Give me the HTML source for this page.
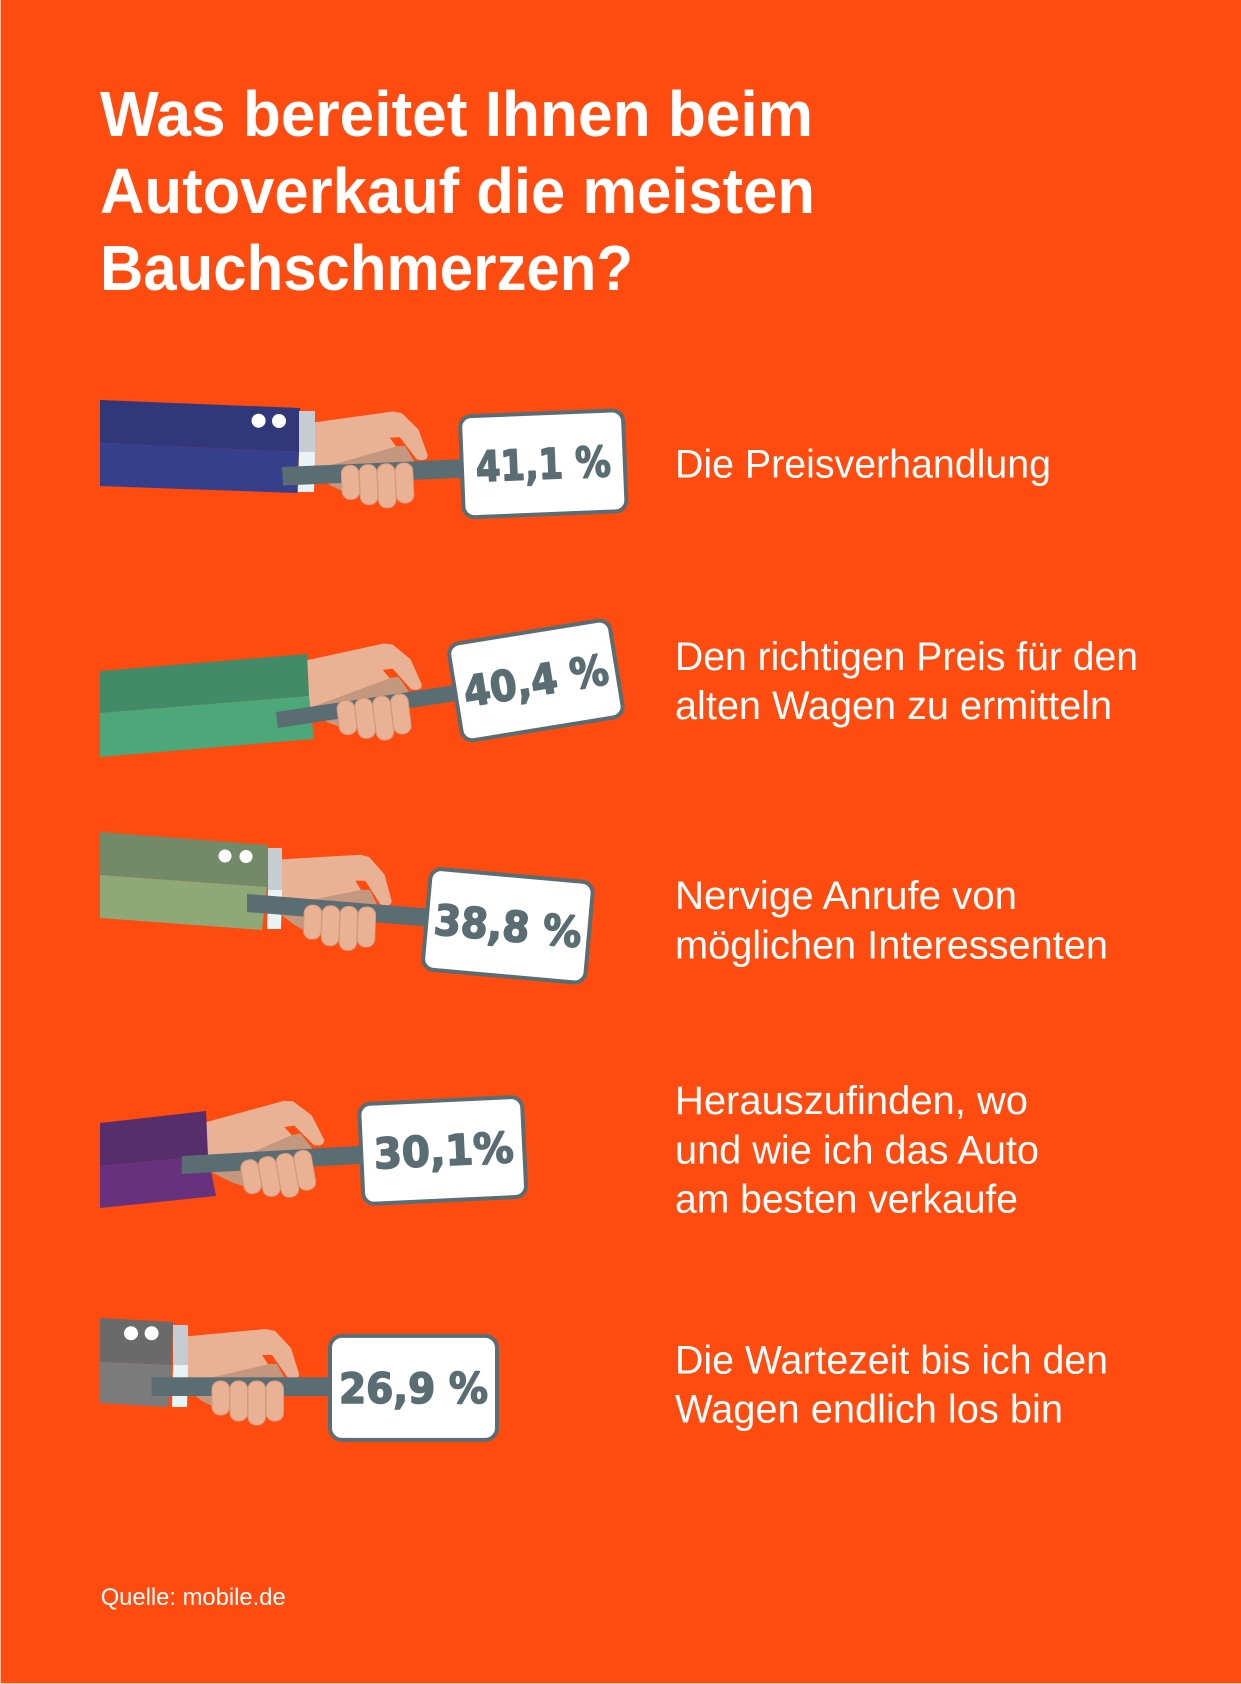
<!DOCTYPE html>
<html><head><meta charset="utf-8"><style>
html,body{margin:0;padding:0;background:#fe4b0f;}
svg{display:block;}
text{font-family:"Liberation Sans",sans-serif;}
.val{font-family:"DejaVu Sans","Liberation Sans",sans-serif;font-weight:bold;font-size:42px;fill:#5a6d73;stroke:#5a6d73;stroke-width:1.6px;stroke-linejoin:round;}
.lbl{font-size:40px;fill:#fff;}
.ttl{font-size:64px;font-weight:bold;fill:#fff;}
</style></head><body>
<svg width="1241" height="1684" viewBox="0 0 1241 1684" xmlns="http://www.w3.org/2000/svg">
<rect width="1241" height="1684" fill="#fe4b0f"/>
<rect x="0" y="0" width="1" height="1684" fill="#f9b79c"/>
<rect x="0" y="1683" width="1241" height="1" fill="#f9c9b6"/>

<!-- Title -->
<text class="ttl" x="100" y="136" textLength="713" lengthAdjust="spacingAndGlyphs">Was bereitet Ihnen beim</text>
<text class="ttl" x="100" y="213" textLength="715" lengthAdjust="spacingAndGlyphs">Autoverkauf die meisten</text>
<text class="ttl" x="100" y="290" textLength="533" lengthAdjust="spacingAndGlyphs">Bauchschmerzen?</text>

<!-- ============ ROW 1 (blue) ============ -->
<g transform="translate(315,423) rotate(-2.6)">
  <path d="M-8,0 L78,-8 L87,-6 L103,11 L111,37 Q111,42 105,42 L100,41 L84,18 L74,18 L83,32 L-8,50 Z" fill="#eab294"/>
  <path d="M-8,48 L81,27 L89,27 L98,44 L30,72 L14,64 Z" fill="#c4977f"/>
</g>
<polygon points="100,400 300,408 299,452 100,443" fill="#30387a"/>
<polygon points="100,443 299,452 297,493 100,486" fill="#353f8c"/>
<circle cx="258.6" cy="420.7" r="7" fill="#fff"/>
<circle cx="279" cy="421" r="7" fill="#fff"/>
<polygon points="299,411 315,411 315,452 299,452" fill="#c5ccd2"/>
<polygon points="299,452 315,452 314,492 298,492" fill="#e8f3f6"/>
<polygon points="282,467 468,459 468,477.5 283,485.5" fill="#5a6d73"/>
<g transform="translate(315,423) rotate(-2.6)" fill="#eab294" stroke="#d59a7d" stroke-width="1">
  <rect x="24" y="44" width="17.5" height="34" rx="8"/>
  <rect x="42" y="44" width="17.5" height="40" rx="8"/>
  <rect x="60" y="44" width="17.5" height="44" rx="8"/>
  <rect x="78" y="44" width="17.5" height="40" rx="8"/>
</g>
<g transform="translate(543.3,463.8) rotate(-2.3)">
  <rect x="-81.5" y="-50.5" width="163" height="101" rx="11" fill="#fff" stroke="#5a6d73" stroke-width="4"/>
  <text class="val" x="0" y="15" text-anchor="middle" textLength="135" lengthAdjust="spacingAndGlyphs">41,1 %</text>
</g>

<!-- ============ ROW 2 (green) ============ -->
<g transform="translate(307,661) rotate(-7)">
  <path d="M-8,0 L78,-8 L87,-6 L103,11 L111,37 Q111,42 105,42 L100,41 L84,18 L74,18 L83,32 L-8,50 Z" fill="#eab294"/>
  <path d="M-8,48 L81,27 L89,27 L98,44 L30,72 L14,64 Z" fill="#c4977f"/>
</g>
<polygon points="100,671 307,654 309,696 100,713" fill="#438a69"/>
<polygon points="100,713 309,696 314,739 100,757" fill="#4ca878"/>
<polygon points="276,712 458,684.5 460,700.5 278,728" fill="#5a6d73"/>
<g transform="translate(307,661) rotate(-7)" fill="#eab294" stroke="#d59a7d" stroke-width="1">
  <rect x="24" y="44" width="17.5" height="34" rx="8"/>
  <rect x="42" y="44" width="17.5" height="40" rx="8"/>
  <rect x="60" y="44" width="17.5" height="44" rx="8"/>
  <rect x="78" y="44" width="17.5" height="40" rx="8"/>
</g>
<g transform="translate(535.9,680.4) rotate(-9.2)">
  <rect x="-81.5" y="-49" width="163" height="98" rx="11" fill="#fff" stroke="#5a6d73" stroke-width="4"/>
  <text class="val" x="0" y="15" text-anchor="middle" textLength="146" lengthAdjust="spacingAndGlyphs">40,4 %</text>
</g>

<!-- ============ ROW 3 (olive) ============ -->
<g transform="translate(282,860) rotate(2)">
  <path d="M-8,0 L78,-8 L87,-6 L103,11 L111,37 Q111,42 105,42 L100,41 L84,18 L74,18 L83,32 L-8,50 Z" fill="#eab294"/>
  <path d="M-8,48 L81,27 L89,27 L98,44 L30,72 L14,64 Z" fill="#c4977f"/>
</g>
<polygon points="100,832 268,845 267,887 100,875" fill="#728a68"/>
<polygon points="100,875 267,887 262,930 100,918" fill="#8ea877"/>
<circle cx="225" cy="856" r="6.5" fill="#fff"/>
<circle cx="246" cy="856.5" r="6.5" fill="#fff"/>
<polygon points="268,848 282,848 282,890 268,890" fill="#c5ccd2"/>
<polygon points="268,890 282,890 281,929 267,929" fill="#e8f3f6"/>
<polygon points="247,894 434,909 434,927 247,912" fill="#5a6d73"/>
<g transform="translate(282,860) rotate(2)" fill="#eab294" stroke="#d59a7d" stroke-width="1">
  <rect x="24" y="44" width="17.5" height="34" rx="8"/>
  <rect x="42" y="44" width="17.5" height="40" rx="8"/>
  <rect x="60" y="44" width="17.5" height="44" rx="8"/>
  <rect x="78" y="44" width="17.5" height="40" rx="8"/>
</g>
<g transform="translate(507.9,925.8) rotate(5.1)">
  <rect x="-81.5" y="-50.5" width="163" height="101" rx="11" fill="#fff" stroke="#5a6d73" stroke-width="4"/>
  <text class="val" x="0" y="15" text-anchor="middle" textLength="148" lengthAdjust="spacingAndGlyphs">38,8 %</text>
</g>

<!-- ============ ROW 4 (purple) ============ -->
<g transform="translate(208.3,1122.3) rotate(-10)">
  <path d="M-8,0 L78,-8 L87,-6 L103,11 L111,37 Q111,42 105,42 L100,41 L84,18 L74,18 L83,32 L-8,50 Z" fill="#eab294"/>
  <path d="M-8,48 L81,27 L89,27 L98,44 L30,72 L14,64 Z" fill="#c4977f"/>
</g>
<polygon points="100,1123 206,1111 208,1156 100,1166" fill="#552e6b"/>
<polygon points="100,1166 208,1156 216,1196 100,1208" fill="#66327e"/>
<polygon points="181.7,1156 367,1145.5 367,1163.5 181.7,1174" fill="#5a6d73"/>
<g transform="translate(208.3,1122.3) rotate(-10)" fill="#eab294" stroke="#d59a7d" stroke-width="1">
  <rect x="24" y="44" width="17.5" height="34" rx="8"/>
  <rect x="42" y="44" width="17.5" height="40" rx="8"/>
  <rect x="60" y="44" width="17.5" height="44" rx="8"/>
  <rect x="78" y="44" width="17.5" height="40" rx="8"/>
</g>
<g transform="translate(442.7,1150.4) rotate(-2.7)">
  <rect x="-81.5" y="-50" width="163" height="100" rx="11" fill="#fff" stroke="#5a6d73" stroke-width="4"/>
  <text class="val" x="1" y="15" text-anchor="middle" textLength="140" lengthAdjust="spacingAndGlyphs">30,1%</text>
</g>

<!-- ============ ROW 5 (gray) ============ -->
<g transform="translate(188,1337)">
  <path d="M-8,0 L78,-8 L87,-6 L103,11 L111,37 Q111,42 105,42 L100,41 L84,18 L74,18 L83,32 L-8,50 Z" fill="#eab294"/>
  <path d="M-8,48 L81,27 L89,27 L98,44 L30,72 L14,64 Z" fill="#c4977f"/>
</g>
<polygon points="100,1318 173,1322 172,1365 100,1362" fill="#6a6a6a"/>
<polygon points="100,1362 172,1365 168,1407 100,1403" fill="#7b7b7b"/>
<circle cx="131" cy="1333.3" r="7" fill="#fff"/>
<circle cx="151.6" cy="1333.3" r="7" fill="#fff"/>
<polygon points="173,1325 188,1325 188,1365 173,1365" fill="#c5ccd2"/>
<polygon points="173,1365 188,1365 187,1407 172,1407" fill="#e8f3f6"/>
<rect x="151.6" y="1377.3" width="186" height="18.7" fill="#5a6d73"/>
<g transform="translate(188,1337)" fill="#eab294" stroke="#d59a7d" stroke-width="1">
  <rect x="24" y="44" width="17.5" height="34" rx="8"/>
  <rect x="42" y="44" width="17.5" height="40" rx="8"/>
  <rect x="60" y="44" width="17.5" height="44" rx="8"/>
  <rect x="78" y="44" width="17.5" height="40" rx="8"/>
</g>
<g transform="translate(413.5,1387.9)">
  <rect x="-83.5" y="-52" width="167" height="104" rx="12" fill="#fff" stroke="#5a6d73" stroke-width="4"/>
  <text class="val" x="0" y="15" text-anchor="middle" textLength="149" lengthAdjust="spacingAndGlyphs">26,9 %</text>
</g>

<!-- Labels -->
<text class="lbl" x="675" y="477.7" textLength="376" lengthAdjust="spacingAndGlyphs">Die Preisverhandlung</text>
<text class="lbl" x="675" y="670" textLength="463" lengthAdjust="spacingAndGlyphs">Den richtigen Preis für den</text>
<text class="lbl" x="675" y="719" textLength="437" lengthAdjust="spacingAndGlyphs">alten Wagen zu ermitteln</text>
<text class="lbl" x="675" y="909" textLength="342" lengthAdjust="spacingAndGlyphs">Nervige Anrufe von</text>
<text class="lbl" x="675" y="958.3" textLength="433" lengthAdjust="spacingAndGlyphs">möglichen Interessenten</text>
<text class="lbl" x="675" y="1114" textLength="353" lengthAdjust="spacingAndGlyphs">Herauszufinden, wo</text>
<text class="lbl" x="675" y="1163.3" textLength="364" lengthAdjust="spacingAndGlyphs">und wie ich das Auto</text>
<text class="lbl" x="675" y="1212.7" textLength="343" lengthAdjust="spacingAndGlyphs">am besten verkaufe</text>
<text class="lbl" x="675" y="1373.3" textLength="433" lengthAdjust="spacingAndGlyphs">Die Wartezeit bis ich den</text>
<text class="lbl" x="675" y="1422.7" textLength="388" lengthAdjust="spacingAndGlyphs">Wagen endlich los bin</text>

<!-- Source -->
<text x="100.7" y="1605" font-size="24" fill="#fff" textLength="185" lengthAdjust="spacingAndGlyphs">Quelle: mobile.de</text>
</svg>
</body></html>
